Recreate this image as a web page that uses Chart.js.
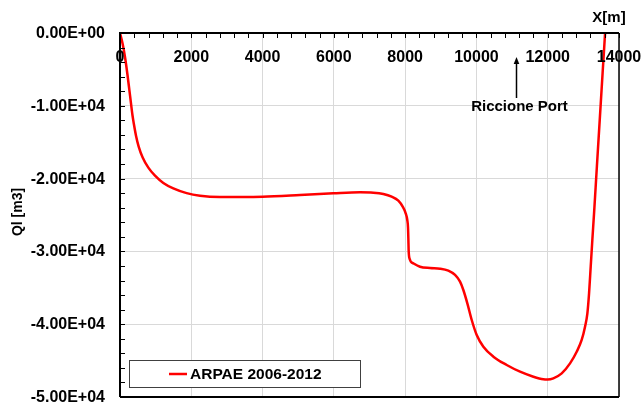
<!DOCTYPE html>
<html>
<head>
<meta charset="utf-8">
<script src="https://cdn.jsdelivr.net/npm/chart.js@4/dist/chart.umd.min.js"></script>
<style>
  html, body { margin: 0; padding: 0; background: #fff; }
  #wrap { width: 644px; height: 405px; }
</style>
</head>
<body>
<div id="wrap"><canvas id="c" width="644" height="405"></canvas></div>
<script>
// Longshore distance X [m] and cumulative volume Ql [m3]
const distanceX = [
  0, 75, 140, 206, 262, 309, 350, 393, 449, 524, 636, 795, 982, 1216, 1496, 1870,
  2245, 2806, 3500, 4000, 5050, 5985, 6734, 7108, 7389, 7622, 7809, 7931, 8015,
  8060, 8080, 8090, 8098, 8118, 8230, 8417, 8698, 8979, 9212, 9400, 9540, 9633,
  9745, 9868, 10008, 10195, 10476, 10850, 11224, 11598, 11877, 12000, 12158,
  12393, 12626, 12813, 12953, 13047, 13113, 13160, 13206, 13252, 13300, 13380,
  13460, 13540, 13610, 13680
];
const volumeQl = [
  0, -1500, -3300, -5600, -7800, -9700, -11300, -12600, -14100, -15600, -17100,
  -18500, -19600, -20600, -21350, -22000, -22350, -22520, -22520, -22480, -22250,
  -22020, -21880, -21930, -22110, -22480, -23030, -23850, -24770, -25690, -26700,
  -28200, -29800, -30900, -31640, -32100, -32280, -32370, -32650, -33240, -34160,
  -35300, -37130, -39420, -41480, -43090, -44460, -45600, -46520, -47210, -47570,
  -47600, -47430, -46750, -45380, -43780, -42170, -40340, -38500, -35760, -32100,
  -28430, -24770, -18300, -11900, -5500, 0, 5500
];
const xTicks = [0, 2000, 4000, 6000, 8000, 10000, 12000, 14000];
const yTicks = [0, -10000, -20000, -30000, -40000, -50000];
const seriesName = 'ARPAE 2006-2012';
const portX = 11100;
const portLabel = 'Riccione Port';

const FONT = '"Liberation Sans", Arial, sans-serif';

function sci(v) {
  if (v === 0) return '0.00E+00';
  const parts = v.toExponential(2).split('e');
  const n = parseInt(parts[1], 10);
  return parts[0] + 'E' + (n < 0 ? '-' : '+') + String(Math.abs(n)).padStart(2, '0');
}

const decorations = {
  id: 'decorations',
  afterDraw(chart) {
    const ctx = chart.ctx;
    const a = chart.chartArea;
    const xs = chart.scales.x, ys = chart.scales.y;
    ctx.save();

    // inward tick marks on top and left axes
    ctx.strokeStyle = '#000';
    ctx.lineWidth = 1;
    ctx.beginPath();
    for (let v = 0; v <= 14000; v += 400) {
      const px = Math.round(xs.getPixelForValue(v)) + 0.5;
      ctx.moveTo(px, a.top);
      ctx.lineTo(px, a.top + 5);
    }
    for (let v = 0; v >= -50000; v -= 2000) {
      const py = Math.round(ys.getPixelForValue(v)) + 0.5;
      ctx.moveTo(a.left, py);
      ctx.lineTo(a.left + 5, py);
    }
    ctx.stroke();

    // frame
    ctx.lineWidth = 2;
    ctx.beginPath();
    ctx.moveTo(a.left, a.bottom);
    ctx.lineTo(a.left, a.top);
    ctx.lineTo(a.right, a.top);
    ctx.stroke();
    ctx.lineWidth = 1.5;
    ctx.beginPath();
    ctx.moveTo(a.right, a.top);
    ctx.lineTo(a.right, a.bottom);
    ctx.stroke();
    ctx.lineWidth = 2;
    ctx.beginPath();
    ctx.moveTo(a.left, a.bottom);
    ctx.lineTo(a.right, a.bottom);
    ctx.stroke();

    ctx.fillStyle = '#000';
    ctx.textBaseline = 'middle';

    // y tick labels
    ctx.font = 'bold 16px ' + FONT;
    ctx.textAlign = 'right';
    yTicks.forEach(v => ctx.fillText(sci(v), a.left - 15, ys.getPixelForValue(v) + 0.5));

    // x tick labels just under the top axis
    ctx.textAlign = 'center';
    xTicks.forEach(v => ctx.fillText(String(v), xs.getPixelForValue(v), a.top + 25));

    // axis titles
    ctx.font = 'bold 15px ' + FONT;
    ctx.fillText('X[m]', 609, 18);
    ctx.save();
    ctx.translate(18, 212);
    ctx.rotate(-Math.PI / 2);
    ctx.font = 'bold 14px ' + FONT;
    ctx.fillText('Ql [m3]', 0, 0);
    ctx.restore();

    // port marker
    const px = Math.round(xs.getPixelForValue(portX)) + 0.5;
    ctx.lineWidth = 1.5;
    ctx.beginPath();
    ctx.moveTo(px, a.top + 65);
    ctx.lineTo(px, a.top + 30);
    ctx.stroke();
    ctx.beginPath();
    ctx.moveTo(px, a.top + 24);
    ctx.lineTo(px - 2.8, a.top + 31);
    ctx.lineTo(px + 2.8, a.top + 31);
    ctx.closePath();
    ctx.fill();
    ctx.font = 'bold 15px ' + FONT;
    ctx.fillText(portLabel, px + 3, a.top + 74);

    // legend box
    ctx.fillStyle = '#fff';
    ctx.fillRect(129.5, 360.5, 231, 27);
    ctx.strokeStyle = '#404040';
    ctx.lineWidth = 1;
    ctx.strokeRect(129.5, 360.5, 231, 27);
    ctx.strokeStyle = '#ff0000';
    ctx.lineWidth = 2.5;
    ctx.beginPath();
    ctx.moveTo(169, 374);
    ctx.lineTo(187, 374);
    ctx.stroke();
    ctx.fillStyle = '#000';
    ctx.textAlign = 'left';
    ctx.font = 'bold 15.5px ' + FONT;
    ctx.fillText(seriesName, 190, 374.5);

    ctx.restore();
  }
};

new Chart(document.getElementById('c'), {
  type: 'line',
  data: {
    datasets: [{
      label: seriesName,
      data: distanceX.map((x, i) => ({ x: x, y: volumeQl[i] })),
      borderColor: '#ff0000',
      backgroundColor: '#ff0000',
      borderWidth: 2.5,
      pointRadius: 0,
      fill: false,
      cubicInterpolationMode: 'monotone'
    }]
  },
  options: {
    responsive: false,
    animation: false,
    devicePixelRatio: 1,
    layout: { padding: { top: 0, left: 0, right: 25, bottom: 8 } },
    plugins: { legend: { display: false }, tooltip: { enabled: false } },
    scales: {
      x: {
        type: 'linear',
        position: 'top',
        min: 0,
        max: 14000,
        afterFit: s => { s.height = 33; },
        afterBuildTicks: s => { s.ticks = xTicks.map(v => ({ value: v })); },
        ticks: { display: false },
        grid: { color: '#d9d9d9', lineWidth: 1, drawTicks: false },
        border: { display: false }
      },
      y: {
        type: 'linear',
        min: -50000,
        max: 0,
        afterFit: s => { s.width = 120; },
        afterBuildTicks: s => { s.ticks = yTicks.map(v => ({ value: v })); },
        ticks: { display: false },
        grid: { color: '#d9d9d9', lineWidth: 1, drawTicks: false },
        border: { display: false }
      }
    }
  },
  plugins: [decorations]
});
</script>
</body>
</html>
